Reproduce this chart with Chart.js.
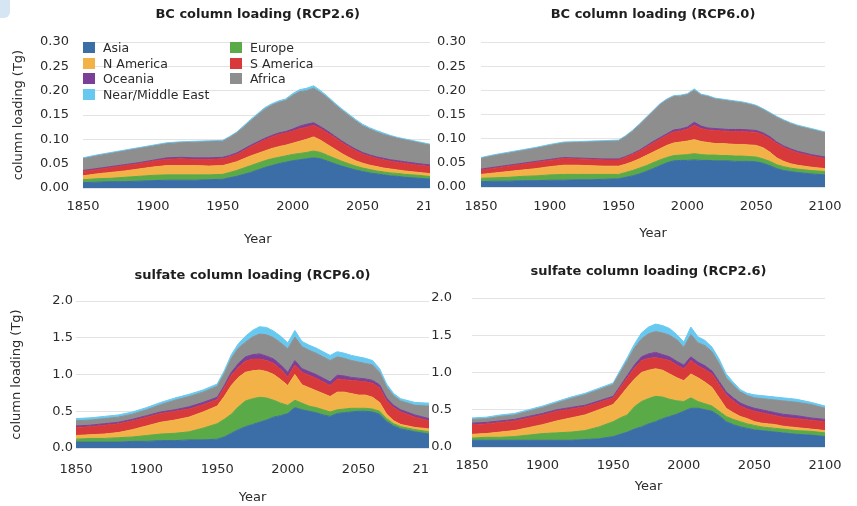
<!DOCTYPE html>
<html>
<head>
<meta charset="utf-8">
<script src="https://cdn.jsdelivr.net/npm/chart.js@4.4.1/dist/chart.umd.min.js"></script>
<style>
  html, body { margin: 0; padding: 0; background: #fff; }
  #page { position: relative; width: 857px; height: 506px; overflow: hidden; font-family: "DejaVu Sans", sans-serif; }
  .clip { position: absolute; overflow: hidden; }
  canvas { display: block; }
  .corner { position: absolute; left: -8px; top: -8px; width: 18px; height: 26px; border-radius: 6px; background: #d5e5f4; }
  .legend-item { position: absolute; font-size: 12.5px; color: #2b2b2b; white-space: nowrap; line-height: 15px; }
  .legend-item span { position: absolute; left: -20px; top: 2px; width: 12px; height: 11px; }
</style>
</head>
<body>
<div id="page">
  <div class="clip" style="left:0;top:0;width:430px;height:250px"><canvas id="bc26" width="460" height="250"></canvas></div>
  <div class="clip" style="left:430px;top:0;width:427px;height:250px"><canvas id="bc60" width="427" height="250"></canvas></div>
  <div class="clip" style="left:0;top:250px;width:430px;height:256px"><canvas id="so60" width="460" height="256"></canvas></div>
  <div class="clip" style="left:430px;top:250px;width:427px;height:256px"><canvas id="so26" width="427" height="256"></canvas></div>
  <div class="corner"></div>
  <div id="legend"></div>
</div>
<script>
// Regions, stacked bottom to top
const regions = ['Asia', 'Europe', 'N America', 'S America', 'Oceania', 'Africa', 'Near/Middle East'];
const colors = ['#3b6ea6', '#5aaa48', '#f3b248', '#d83a3b', '#7b3f97', '#8e8e8e', '#68c9f0'];

const years = [1850, 1860, 1870, 1880, 1890, 1900, 1910, 1920, 1930, 1940,
  1950, 1955, 1960, 1965, 1970, 1975, 1980, 1985, 1990, 1995,
  2000, 2005, 2010, 2015, 2020, 2025, 2030, 2035, 2040, 2045,
  2050, 2055, 2060, 2065, 2070, 2075, 2080, 2090, 2100];

// BC column loading, RCP2.6 (Tg)
const bc26Asia = [.011,.012,.013,.013,.014,.015,.016,.016,.016,.017, .018,.021,.024,.028,.032,.037,.042,.046,.050,.053, .056,.058,.060,.062,.060,.055,.050,.045,.041,.037, .034,.031,.029,.027,.025,.024,.022,.020,.018];
const bc26Europe = [.006,.007,.007,.009,.010,.011,.011,.011,.011,.010, .010,.011,.012,.013,.014,.014,.014,.014,.013,.013, .013,.013,.013,.014,.013,.012,.011,.010,.009,.008, .007,.007,.006,.006,.006,.006,.006,.006,.005];
const bc26NAm = [.008,.010,.012,.013,.015,.017,.019,.019,.019,.018, .018,.018,.018,.019,.020,.020,.020,.021,.022,.022, .023,.025,.027,.029,.025,.022,.019,.016,.013,.011, .010,.009,.009,.008,.008,.007,.007,.006,.006];
const bc26SAm = [.009,.009,.010,.011,.011,.012,.013,.014,.013,.014, .014,.014,.015,.017,.019,.021,.023,.024,.025,.025, .025,.026,.025,.024,.024,.024,.024,.023,.022,.021, .019,.018,.017,.017,.016,.016,.016,.015,.015];
const bc26Oce = [.002,.002,.002,.002,.002,.002,.003,.003,.003,.003, .003,.003,.003,.003,.003,.003,.003,.003,.003,.003, .004,.005,.006,.005,.004,.004,.003,.003,.003,.003, .003,.003,.003,.003,.003,.003,.003,.003,.003];
const bc26Afr = [.024,.026,.027,.028,.029,.029,.029,.030,.032,.033, .033,.037,.041,.045,.050,.055,.060,.062,.063,.064, .069,.071,.069,.071,.070,.068,.065,.063,.061,.058, .055,.053,.051,.049,.048,.046,.045,.043,.040];
const bc26Mid = [.002,.002,.002,.002,.002,.002,.002,.002,.002,.002, .002,.002,.002,.003,.003,.003,.003,.003,.003,.003, .004,.004,.005,.005,.004,.003,.003,.003,.003,.003, .003,.003,.003,.003,.002,.002,.002,.002,.002];

// BC column loading, RCP6.0 (Tg)
const bc60Asia = [.011,.012,.012,.013,.013,.014,.014,.015,.015,.016, .017,.020,.023,.027,.032,.038,.044,.050,.054,.055, .055,.056,.055,.055,.054,.054,.054,.053,.053,.053, .052,.049,.044,.038,.034,.032,.030,.027,.025];
const bc60Europe = [.007,.007,.008,.009,.010,.011,.012,.011,.011,.010, .009,.010,.011,.012,.012,.012,.012,.011,.011,.011, .012,.013,.012,.011,.012,.011,.011,.011,.011,.010, .010,.009,.009,.008,.008,.007,.007,.007,.007];
const bc60NAm = [.008,.010,.012,.013,.015,.017,.019,.019,.018,.017, .017,.017,.018,.019,.021,.022,.023,.025,.026,.027, .028,.029,.027,.026,.024,.025,.024,.024,.024,.024, .024,.023,.019,.014,.011,.009,.008,.007,.006];
const bc60SAm = [.009,.010,.011,.012,.013,.013,.014,.013,.013,.013, .013,.014,.015,.016,.017,.019,.020,.021,.023,.023, .025,.030,.027,.026,.027,.026,.026,.027,.027,.027, .027,.027,.028,.030,.029,.028,.026,.023,.021];
const bc60Oce = [.002,.002,.002,.002,.002,.002,.002,.002,.002,.002, .002,.002,.002,.002,.003,.003,.003,.003,.004,.004, .004,.006,.005,.004,.004,.004,.004,.004,.004,.004, .004,.004,.004,.003,.003,.003,.003,.003,.003];
const bc60Afr = [.022,.024,.025,.026,.027,.029,.030,.032,.034,.036, .037,.041,.046,.052,.057,.062,.068,.070,.069,.068, .067,.066,.064,.065,.061,.060,.059,.057,.055,.053, .050,.048,.048,.051,.052,.052,.052,.052,.050];
const bc60Mid = [.002,.002,.002,.002,.002,.002,.002,.002,.002,.002, .002,.002,.002,.002,.002,.002,.002,.002,.002,.002, .002,.003,.002,.002,.002,.002,.002,.002,.002,.002, .002,.002,.002,.002,.002,.002,.002,.002,.002];

// sulfate column loading, RCP6.0 (Tg)
const so60Asia = [.08,.08,.08,.08,.09,.09,.10,.10,.11,.11, .12,.15,.20,.25,.29,.32,.35,.38,.42,.44, .47,.55,.52,.50,.48,.45,.43,.47,.48,.49, .50,.50,.49,.46,.36,.30,.26,.22,.19];
const so60Europe = [.04,.05,.05,.06,.06,.08,.09,.10,.11,.16, .21,.24,.26,.31,.35,.35,.34,.30,.23,.17, .11,.10,.09,.07,.07,.07,.06,.05,.05,.05, .04,.04,.04,.04,.04,.03,.03,.03,.03];
const so60NAm = [.05,.05,.06,.07,.10,.13,.16,.18,.20,.22, .24,.31,.39,.40,.39,.38,.37,.36,.35,.32, .27,.35,.25,.25,.23,.22,.21,.24,.23,.20, .18,.18,.16,.12,.06,.04,.03,.03,.04];
const so60SAm = [.11,.11,.12,.12,.12,.12,.12,.12,.11,.10, .09,.12,.14,.14,.15,.16,.15,.15,.15,.14, .12,.13,.17,.17,.17,.16,.15,.18,.17,.18, .19,.18,.19,.20,.18,.18,.17,.14,.11];
const so60Oce = [.02,.02,.02,.02,.02,.02,.02,.02,.03,.03, .03,.03,.04,.05,.06,.06,.07,.06,.06,.06, .06,.06,.05,.05,.05,.05,.05,.05,.05,.04, .04,.04,.04,.04,.04,.03,.03,.03,.03];
const so60Afr = [.07,.07,.07,.07,.07,.08,.10,.13,.14,.14, .15,.16,.19,.21,.20,.24,.27,.29,.29,.30, .32,.32,.30,.29,.29,.29,.29,.25,.24,.23, .22,.21,.21,.17,.15,.13,.12,.13,.17];
const so60Mid = [.03,.03,.03,.03,.03,.03,.03,.03,.03,.03, .03,.04,.05,.06,.08,.09,.10,.10,.09,.09, .08,.09,.07,.07,.07,.07,.07,.07,.07,.07, .07,.07,.06,.05,.04,.03,.03,.04,.04];

// sulfate column loading, RCP2.6 (Tg)
const so26Asia = [.09,.09,.09,.09,.09,.09,.09,.09,.10,.11, .14,.17,.20,.24,.27,.31,.34,.38,.41,.44, .48,.52,.52,.50,.48,.42,.34,.30,.27,.25, .23,.22,.21,.20,.19,.18,.17,.16,.14];
const so26Europe = [.03,.04,.04,.05,.07,.09,.10,.11,.12,.16, .20,.22,.23,.30,.34,.34,.34,.29,.23,.18, .13,.14,.09,.08,.07,.06,.07,.07,.07,.06, .06,.05,.05,.05,.05,.05,.05,.05,.05];
const so26NAm = [.05,.05,.07,.08,.10,.12,.16,.19,.21,.23, .23,.29,.37,.37,.39,.38,.37,.36,.34,.31, .28,.32,.32,.29,.25,.18,.11,.09,.07,.07, .05,.05,.05,.05,.04,.04,.04,.03,.03];
const so26SAm = [.13,.13,.13,.13,.13,.13,.13,.12,.11,.10, .09,.12,.13,.15,.16,.16,.15,.15,.18,.17, .16,.18,.16,.17,.18,.18,.18,.16,.14,.13, .14,.14,.13,.12,.12,.12,.12,.12,.12];
const so26Oce = [.02,.02,.02,.02,.02,.02,.02,.02,.02,.02, .02,.02,.03,.04,.05,.06,.07,.06,.05,.05, .05,.05,.05,.05,.04,.04,.04,.04,.04,.04, .04,.04,.04,.04,.04,.04,.04,.03,.03];
const so26Afr = [.05,.05,.06,.06,.07,.08,.09,.12,.14,.15, .16,.18,.20,.23,.24,.27,.28,.29,.29,.29, .24,.30,.26,.27,.26,.24,.19,.17,.15,.14, .14,.15,.16,.17,.18,.18,.18,.18,.15];
const so26Mid = [.02,.02,.02,.02,.02,.02,.02,.02,.02,.02, .02,.03,.04,.05,.08,.09,.10,.10,.09,.07, .07,.10,.08,.07,.06,.06,.05,.04,.03,.03, .04,.04,.04,.04,.04,.04,.04,.03,.03];

Chart.defaults.font.family = '"DejaVu Sans", sans-serif';
Chart.defaults.font.size = 13;
Chart.defaults.color = '#2b2b2b';

// Title centred over the plot area rather than the canvas
const panelTitle = {
  id: 'panelTitle',
  afterDraw(chart, args, opts) {
    const { ctx, chartArea } = chart;
    ctx.save();
    ctx.font = 'bold 13px "DejaVu Sans", sans-serif';
    ctx.fillStyle = '#1e1e1e';
    ctx.textAlign = 'center';
    ctx.textBaseline = 'middle';
    ctx.fillText(opts.text, (chartArea.left + chartArea.right) / 2, opts.y);
    ctx.restore();
  }
};

function buildChart(id, series, o) {
  const datasets = regions.map((name, i) => ({
    label: name,
    data: years.map((yr, k) => ({ x: yr, y: series[i][k] })),
    backgroundColor: colors[i],
    borderColor: colors[i],
    borderWidth: 1,
    pointRadius: 0,
    tension: 0,
    fill: i === 0 ? 'origin' : '-1'
  }));

  return new Chart(document.getElementById(id), {
    type: 'line',
    data: { datasets },
    options: {
      responsive: false,
      animation: false,
      layout: { padding: { top: o.top, right: o.right, left: 0, bottom: 0 } },
      plugins: {
        legend: { display: false },
        tooltip: { enabled: false },
        panelTitle: { text: o.title, y: o.titleY }
      },
      scales: {
        x: {
          type: 'linear',
          min: 1850,
          max: 2100,
          grid: { display: false, drawTicks: false },
          border: { display: false },
          ticks: { stepSize: 50, padding: o.xTickPad, maxRotation: 0, callback: v => String(v) },
          title: { display: true, text: 'Year', padding: { top: 0, bottom: o.yearPad } },
          afterFit: s => { s.height = o.xH; }
        },
        y: {
          stacked: true,
          min: 0,
          max: o.yMax,
          grid: { color: '#e3e3e3', drawTicks: false },
          border: { display: false },
          ticks: { stepSize: o.step, padding: o.yTickPad, callback: v => v.toFixed(o.dec) },
          title: { display: o.yTitle, text: 'column loading (Tg)', padding: { top: o.yTitlePad, bottom: 0 } },
          afterFit: s => { s.width = o.yW; }
        }
      }
    },
    plugins: [panelTitle]
  });
}

buildChart('bc26', [bc26Asia, bc26Europe, bc26NAm, bc26SAm, bc26Oce, bc26Afr, bc26Mid], {
  title: 'BC column loading (RCP2.6)', titleY: 15, yMax: 0.3, step: 0.05, dec: 2,
  top: 42, right: 26, yW: 83, yTickPad: 14, yTitle: true, yTitlePad: 11, xH: 62, xTickPad: 11, yearPad: 3
});
buildChart('bc60', [bc60Asia, bc60Europe, bc60NAm, bc60SAm, bc60Oce, bc60Afr, bc60Mid], {
  title: 'BC column loading (RCP6.0)', titleY: 15, yMax: 0.3, step: 0.05, dec: 2,
  top: 42, right: 32, yW: 51, yTickPad: 15, yTitle: false, yTitlePad: 0, xH: 63, xTickPad: 12, yearPad: 9
});
buildChart('so60', [so60Asia, so60Europe, so60NAm, so60SAm, so60Oce, so60Afr, so60Mid], {
  title: 'sulfate column loading (RCP6.0)', titleY: 26, yMax: 2, step: 0.5, dec: 1,
  top: 51, right: 31, yW: 76, yTickPad: 3, yTitle: true, yTitlePad: 9, xH: 58, xTickPad: 14, yearPad: 1
});
buildChart('so26', [so26Asia, so26Europe, so26NAm, so26SAm, so26Oce, so26Afr, so26Mid], {
  title: 'sulfate column loading (RCP2.6)', titleY: 22, yMax: 2, step: 0.5, dec: 1,
  top: 48, right: 32, yW: 42, yTickPad: 20, yTitle: false, yTitlePad: 0, xH: 59, xTickPad: 11, yearPad: 12
});

// Legend sits inside the first panel, two columns
const legendSlots = [
  { name: 'Asia', x: 103, y: 40 },
  { name: 'N America', x: 103, y: 55.5 },
  { name: 'Oceania', x: 103, y: 71 },
  { name: 'Near/Middle East', x: 103, y: 86.5 },
  { name: 'Europe', x: 250, y: 40 },
  { name: 'S America', x: 250, y: 55.5 },
  { name: 'Africa', x: 250, y: 71 }
];
const legend = document.getElementById('legend');
legendSlots.forEach(slot => {
  const item = document.createElement('div');
  item.className = 'legend-item';
  item.style.left = slot.x + 'px';
  item.style.top = slot.y + 'px';
  item.innerHTML = `<span style="background:${colors[regions.indexOf(slot.name)]}"></span>${slot.name}`;
  legend.appendChild(item);
});
</script>
</body>
</html>
